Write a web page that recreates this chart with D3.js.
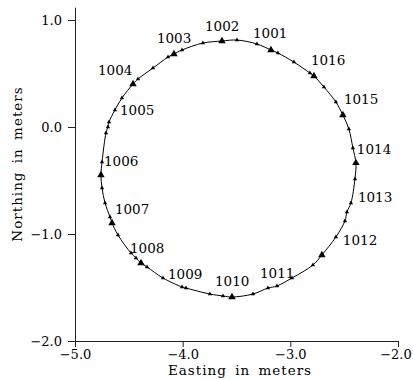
<!DOCTYPE html>
<html>
<head>
<meta charset="utf-8">
<script src="https://cdn.jsdelivr.net/npm/d3@7"></script>
<style>
  body { margin: 0; background: #fff; }
  text { font-family: "DejaVu Serif", serif; font-size: 13.5px; fill: #000; }
  .axis path, .axis line { stroke: #222; }
  .axis text { font-family: "DejaVu Serif", serif; font-size: 13px; }
</style>
</head>
<body>
<div class="graphic"></div>
<script>
// survey shots around the circle, clockwise from the top
const easting = [-3.635, -3.496, -3.310, -3.180, -3.115, -2.967, -2.818, -2.781, -2.688, -2.577,
    -2.512, -2.456, -2.419, -2.391, -2.400, -2.437, -2.474, -2.493, -2.577, -2.707,
    -2.790, -2.985, -3.124, -3.208, -3.347, -3.542, -3.626, -3.747, -3.969, -4.006,
    -4.183, -4.331, -4.387, -4.434, -4.480, -4.601, -4.656, -4.675, -4.721, -4.749,
    -4.759, -4.749, -4.712, -4.694, -4.684, -4.629, -4.564, -4.461, -4.415, -4.276,
    -4.136, -4.081, -4.006, -3.812]
const northing = [0.804, 0.813, 0.776, 0.720, 0.692, 0.607, 0.505, 0.477, 0.374, 0.234,
    0.112, -0.019, -0.196, -0.336, -0.486, -0.710, -0.794, -0.879, -1.028, -1.196,
    -1.290, -1.411, -1.486, -1.505, -1.561, -1.589, -1.579, -1.561, -1.505, -1.495,
    -1.411, -1.308, -1.271, -1.224, -1.178, -1.009, -0.897, -0.841, -0.710, -0.570,
    -0.449, -0.327, -0.056, 0.000, 0.047, 0.159, 0.271, 0.402, 0.449, 0.551,
    0.654, 0.682, 0.720, 0.785]
// 1 = station mark, 0 = intermediate shot
const isStation = [1, 0, 0, 1, 0, 0, 0, 1, 0, 0,
    1, 0, 0, 1, 0, 0, 0, 0, 0, 1,
    0, 0, 0, 0, 0, 1, 0, 0, 0, 0,
    0, 0, 1, 0, 0, 0, 1, 0, 0, 0,
    1, 0, 0, 0, 0, 0, 0, 1, 0, 0,
    0, 1, 0, 0]

const stationNames = ["1001", "1002", "1003", "1004", "1005", "1006", "1007", "1008",
    "1009", "1010", "1011", "1012", "1013", "1014", "1015", "1016"]
const labelEasting = [-3.347, -3.793, -4.239, -4.786, -4.582, -4.731, -4.629, -4.489,
    -4.136, -3.700, -3.282, -2.512, -2.372, -2.382, -2.502, -2.809]
const labelNorthing = [0.832, 0.897, 0.785, 0.486, 0.112, -0.364, -0.813, -1.178,
    -1.421, -1.486, -1.411, -1.103, -0.701, -0.252, 0.215, 0.579]

const xTicks = [-5, -4, -3, -2]
const yTicks = [-2, -1, 0, 1]

function setupChart(){
    let width = 413
    let height = 380

    let svg = d3.select(".graphic").append("svg")
        .attr("width", width)
        .attr("height", height)

    let xScale = d3.scaleLinear()
        .domain([-5, -2])
        .range([75, 398])

    let yScale = d3.scaleLinear()
        .domain([-2, 1.12])
        .range([341, 7.2])

    let fmt = d3.format(".1f")

    svg.append("g")
        .attr("class", "axis")
        .attr("transform", "translate(0," + yScale(-2) + ")")
        .call(d3.axisBottom(xScale).tickValues(xTicks).tickFormat(fmt).tickSize(6).tickSizeOuter(0).tickPadding(3))
        .call(g => g.selectAll("text").attr("fill", "#000"))
        .call(g => g.selectAll(".tick:last-of-type text").attr("dx", "-0.2em"))

    svg.append("g")
        .attr("class", "axis")
        .attr("transform", "translate(" + xScale(-5) + ",0)")
        .call(d3.axisLeft(yScale).tickValues(yTicks).tickFormat(fmt).tickSize(7).tickSizeOuter(0).tickPadding(6))
        .call(g => g.selectAll("text").attr("fill", "#000"))

    svg.append("text")
        .attr("x", 240)
        .attr("y", 375)
        .attr("text-anchor", "middle")
        .style("letter-spacing", "1px")
        .style("word-spacing", "3px")
        .text("Easting in meters")

    svg.append("text")
        .attr("transform", "translate(22,164) rotate(-90)")
        .attr("text-anchor", "middle")
        .style("letter-spacing", "1px")
        .style("word-spacing", "3px")
        .text("Northing in meters")

    let pts = easting.map((e, i) => [xScale(e), yScale(northing[i])])

    svg.append("path")
        .attr("d", d3.line().curve(d3.curveCatmullRomClosed)(pts))
        .attr("fill", "none")
        .attr("stroke", "#000")
        .attr("stroke-width", 1)

    let tri = d3.symbol().type(d3.symbolTriangle)

    svg.selectAll(".shot")
        .data(pts)
        .enter()
        .append("path")
        .attr("class", "shot")
        .attr("transform", d => "translate(" + d[0] + "," + d[1] + ")")
        .attr("d", (d, i) => tri.size(isStation[i] ? 24 : 8)())
        .attr("fill", "#000")

    svg.selectAll(".label")
        .data(stationNames)
        .enter()
        .append("text")
        .attr("class", "label")
        .attr("x", (d, i) => xScale(labelEasting[i]))
        .attr("y", (d, i) => yScale(labelNorthing[i]))
        .text(d => d)
}

setupChart()
</script>
</body>
</html>
